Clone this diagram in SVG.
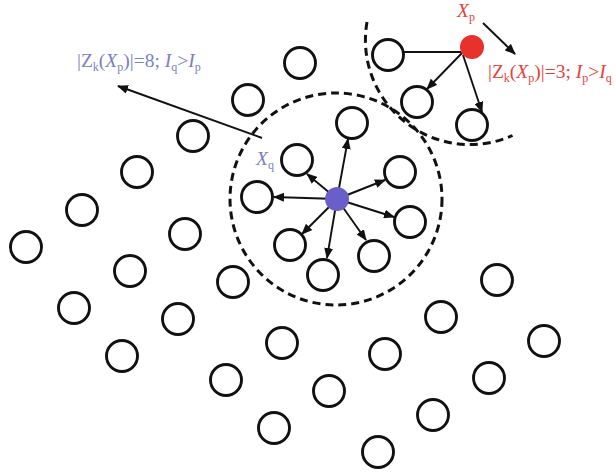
<svg xmlns="http://www.w3.org/2000/svg" width="616" height="476" viewBox="0 0 616 476">
<style>
.n{fill:none;stroke:#111;stroke-width:2.9}
.dash{fill:none;stroke:#111;stroke-width:3;stroke-dasharray:8 5}
.ar{stroke:#111;stroke-width:1.9;fill:none}
.lbl{font-family:"Liberation Serif","Times New Roman",serif;font-size:19.5px}
.it{font-style:italic}
.sub{font-size:12px}
.blue{fill:#7a7ec6}
.red{fill:#e5413a}
</style>
<defs>
<marker id="ah" markerUnits="userSpaceOnUse" markerWidth="11" markerHeight="9" refX="10" refY="4.5" orient="auto">
<path d="M0,0 L11,4.5 L0,9 Z" fill="#111"/>
</marker>
</defs>
<rect width="616" height="476" fill="#fff"/>
<g id="regions">
<circle class="dash" cx="336" cy="199" r="106"/>
<path class="dash" d="M367,22 A104.5,104.5 0 0 0 512.5,135.5"/>
</g>
<g id="nodes">
<circle id="n1" class="n" cx="300" cy="63" r="15.5"/>
<circle id="n2" class="n" cx="248" cy="100" r="15.5"/>
<circle id="n3" class="n" cx="193" cy="136" r="15.5"/>
<circle id="n4" class="n" cx="137" cy="172" r="15.5"/>
<circle id="n5" class="n" cx="82" cy="210" r="15.5"/>
<circle id="n6" class="n" cx="26" cy="247" r="15.5"/>
<circle id="n7" class="n" cx="352" cy="123" r="15.5"/>
<circle id="n8" class="n" cx="297" cy="160" r="15.5"/>
<circle id="n9" class="n" cx="400" cy="172" r="15.5"/>
<circle id="n10" class="n" cx="257" cy="197" r="15.5"/>
<circle id="n11" class="n" cx="410" cy="222" r="15.5"/>
<circle id="n12" class="n" cx="290" cy="245" r="15.5"/>
<circle id="n13" class="n" cx="374" cy="256" r="15.5"/>
<circle id="n14" class="n" cx="323" cy="275" r="15.5"/>
<circle id="n15" class="n" cx="388" cy="55" r="15.5"/>
<circle id="n16" class="n" cx="417" cy="102" r="15.5"/>
<circle id="n17" class="n" cx="472" cy="125" r="15.5"/>
<circle id="n18" class="n" cx="185" cy="234" r="15.5"/>
<circle id="n19" class="n" cx="130" cy="271" r="15.5"/>
<circle id="n20" class="n" cx="233" cy="282" r="15.5"/>
<circle id="n21" class="n" cx="74" cy="308" r="15.5"/>
<circle id="n22" class="n" cx="178" cy="319" r="15.5"/>
<circle id="n23" class="n" cx="282" cy="343" r="15.5"/>
<circle id="n24" class="n" cx="122" cy="356" r="15.5"/>
<circle id="n25" class="n" cx="226" cy="380" r="15.5"/>
<circle id="n26" class="n" cx="329" cy="391" r="15.5"/>
<circle id="n27" class="n" cx="274" cy="428" r="15.5"/>
<circle id="n28" class="n" cx="385" cy="354" r="15.5"/>
<circle id="n29" class="n" cx="441" cy="317" r="15.5"/>
<circle id="n30" class="n" cx="497" cy="280" r="15.5"/>
<circle id="n31" class="n" cx="544" cy="341" r="15.5"/>
<circle id="n32" class="n" cx="489" cy="378" r="15.5"/>
<circle id="n33" class="n" cx="433" cy="415" r="15.5"/>
<circle id="n34" class="n" cx="378" cy="452" r="15.5"/>
</g>
<g id="connectors">
<line class="ar" x1="337" y1="199" x2="348" y2="139" marker-end="url(#ah)"/>
<line class="ar" x1="337" y1="199" x2="307" y2="174" marker-end="url(#ah)"/>
<line class="ar" x1="337" y1="199" x2="385" y2="180" marker-end="url(#ah)"/>
<line class="ar" x1="337" y1="199" x2="274" y2="197" marker-end="url(#ah)"/>
<line class="ar" x1="337" y1="199" x2="394" y2="217" marker-end="url(#ah)"/>
<line class="ar" x1="337" y1="199" x2="302" y2="234" marker-end="url(#ah)"/>
<line class="ar" x1="337" y1="199" x2="366" y2="240" marker-end="url(#ah)"/>
<line class="ar" x1="337" y1="199" x2="327" y2="258" marker-end="url(#ah)"/>
<line class="ar" x1="262" y1="138" x2="118" y2="86" marker-end="url(#ah)"/>
<line class="ar" x1="462" y1="52" x2="404" y2="52"/>
<line class="ar" x1="462" y1="53" x2="427" y2="89" marker-end="url(#ah)"/>
<line class="ar" x1="463" y1="55" x2="482" y2="112" marker-end="url(#ah)"/>
<line class="ar" x1="483" y1="23" x2="515" y2="54" marker-end="url(#ah)"/>
</g>
<g id="xq">
<circle cx="337" cy="199" r="12" fill="#6a5fc8"/>
<text class="lbl blue" x="256" y="165" font-size="16"><tspan class="it">X</tspan><tspan class="sub" dy="4">q</tspan></text>
</g>
<g id="xp">
<circle cx="472" cy="47" r="12" fill="#e8312a"/>
<text class="lbl red" x="457" y="17" font-size="17"><tspan class="it">X</tspan><tspan class="sub" dy="4">p</tspan></text>
</g>
<g id="labels">
<text class="lbl blue" x="77" y="67">|Z<tspan class="sub" dy="4">k</tspan><tspan dy="-4">(</tspan><tspan class="it">X</tspan><tspan class="sub" dy="4">p</tspan><tspan dy="-4">)|=8; </tspan><tspan class="it">I</tspan><tspan class="sub" dy="4">q</tspan><tspan dy="-4">&gt;</tspan><tspan class="it">I</tspan><tspan class="sub" dy="4">p</tspan></text>
<text class="lbl red" x="488" y="78">|Z<tspan class="sub" dy="4">k</tspan><tspan dy="-4">(</tspan><tspan class="it">X</tspan><tspan class="sub" dy="4">p</tspan><tspan dy="-4">)|=3; </tspan><tspan class="it">I</tspan><tspan class="sub" dy="4">p</tspan><tspan dy="-4">&gt;</tspan><tspan class="it">I</tspan><tspan class="sub" dy="4">q</tspan></text>
</g>
</svg>
